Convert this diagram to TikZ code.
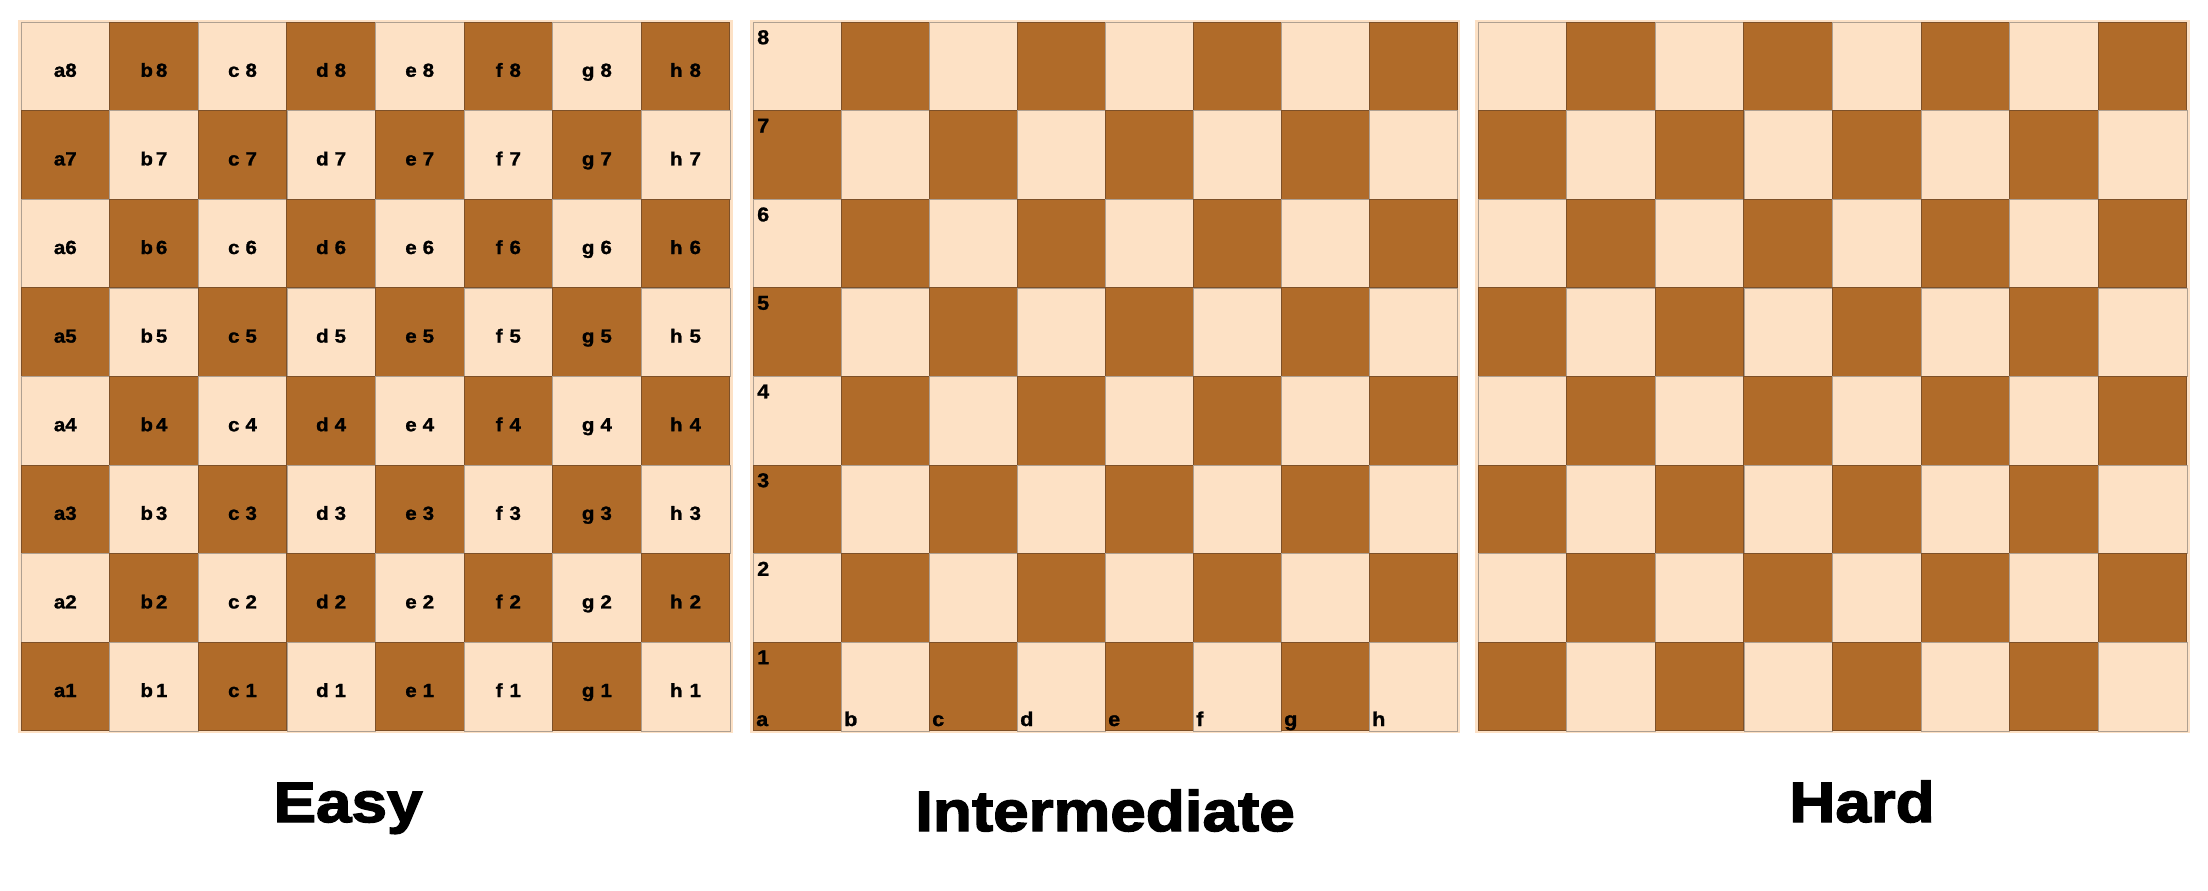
\documentclass[tikz,border=0pt]{standalone}
\usepackage{fontspec}
\setmainfont{Liberation Sans}
\newfontfamily\titlefont{Liberation Sans}[FakeStretch=1.12,FakeBold=2.5]
\newfontfamily\labelfont{Liberation Sans}[FakeStretch=1.08,FakeBold=1.2]
\usepackage{tikz}
\definecolor{boardlight}{RGB}{253,225,197}
\definecolor{boarddark}{RGB}{176,107,41}
\definecolor{darkedge}{RGB}{125,80,40}
\definecolor{lightedge}{RGB}{175,160,145}

\begin{document}
\begin{tikzpicture}[x=1pt,y=-1pt]
\tikzstyle{lightsq}=[fill=boardlight,draw=lightedge,line width=0.5pt]
\tikzstyle{darksq}=[fill=boarddark,draw=darkedge,line width=0.9pt]
\tikzstyle{coordlabel}=[inner sep=0pt,anchor=base,font=\labelfont\fontsize{19}{19}\selectfont\bfseries]
\tikzstyle{edgelabel}=[inner sep=0pt,font=\labelfont\fontsize{20}{20}\selectfont\bfseries]
\tikzstyle{levelname}=[inner sep=0pt,font=\titlefont\fontsize{57}{57}\selectfont\bfseries]
\useasboundingbox[fill=white] (0,0) rectangle (2208,891);
% boards: left edge / square width
\foreach \bx/\bs in {18/88.6,750/88,1475/88.6}{
  \fill[boardlight] (\bx,20) rectangle ++({8*\bs+6},713);
  \foreach \i in {0,...,7}
    \foreach \j in {0,...,7}{
      \pgfmathtruncatemacro{\parity}{mod(\i+\j,2)}
      \ifnum\parity=1
        \path[darksq] ({\bx+3+\i*\bs},{22+\j*88.6}) rectangle ++(\bs,88.6);
      \else
        \path[lightsq] ({\bx+3+\i*\bs},{22+\j*88.6}) rectangle ++(\bs,88.6);
      \fi
    }
}
% easy: every square named
\foreach \f/\gap [count=\i from 0] in {a/0,b/3,c/6,d/6,e/6,f/7,g/6,h/7}
  \foreach \r [count=\j from 0] in {8,...,1}
    \node[coordlabel] (sq-\f\r) at ({21+(\i+0.5)*88.6},{22+(\j+0.5)*88.6+10.5}) {\f\kern\gap pt\r};
% intermediate: ranks and files on the edge
\foreach \r [count=\j from 0] in {8,...,1}
  \node[edgelabel,anchor=north west] (rank-\r) at (757,{30+\j*88.6}) {\r};
\foreach \f [count=\i from 0] in {a,...,h}
  \node[edgelabel,anchor=base west] (file-\f) at ({756+\i*88},726) {\f};
% level names
\node[levelname,anchor=base] (easy) at (348,822) {Easy};
\node[levelname,anchor=base] (intermediate) at (1105,831) {Intermediate};
\node[levelname,anchor=base] (hard) at (1862,822) {Hard};
\end{tikzpicture}
\end{document}
